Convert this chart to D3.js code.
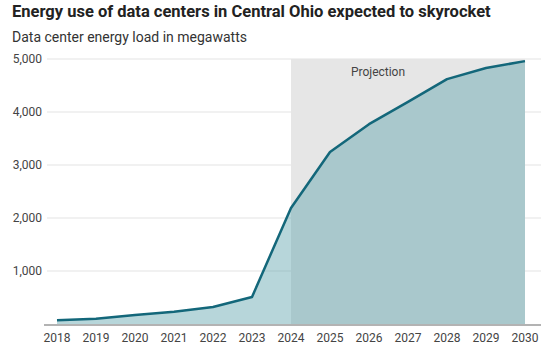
<!DOCTYPE html>
<html>
<head>
<meta charset="utf-8">
<script src="https://cdn.jsdelivr.net/npm/d3@7"></script>
<style>
  body { margin: 0; background: #fff; }
  svg text { font-family: "Roboto", "Liberation Sans", sans-serif; }
</style>
</head>
<body>
<script>
// energy load, megawatts
var years = [2018, 2019, 2020, 2021, 2022, 2023, 2024, 2025, 2026, 2027, 2028, 2029, 2030];
var load = [70, 100, 170, 230, 320, 510, 2190, 3245, 3770, 4190, 4620, 4830, 4960];
var yTicks = [1000, 2000, 3000, 4000, 5000];
var projStart = 2024, projEnd = 2030;

var w = 541, h = 350;
var margin = {top: 59, right: 16, bottom: 26, left: 57};

var svg = d3.select("body").append("svg")
    .attr("width", w)
    .attr("height", h);

var x = d3.scaleLinear()
    .domain([2018, 2030])
    .range([margin.left, w - margin.right]);

var y = d3.scaleLinear()
    .domain([0, 5000])
    .range([h - margin.bottom, margin.top]);

var data = years.map(function(d, i) { return {year: d, value: load[i]}; });

// title + subtitle
svg.append("text")
    .attr("x", 12).attr("y", 17)
    .attr("font-size", 16.5)
    .attr("font-weight", "bold")
    .attr("fill", "#222")
    .text("Energy use of data centers in Central Ohio expected to skyrocket");

svg.append("text")
    .attr("x", 12).attr("y", 42)
    .attr("font-size", 14)
    .attr("fill", "#333")
    .text("Data center energy load in megawatts");

// grid lines
svg.append("g")
  .selectAll("line")
  .data(yTicks)
  .enter().append("line")
    .attr("x1", 47).attr("x2", w)
    .attr("y1", function(d) { return y(d); })
    .attr("y2", function(d) { return y(d); })
    .attr("stroke", "#e3e3e3")
    .attr("stroke-width", 1);

// projection band
svg.append("rect")
    .attr("x", x(projStart))
    .attr("y", y(5000))
    .attr("width", x(projEnd) - x(projStart))
    .attr("height", y(0) - y(5000))
    .attr("fill", "#e6e6e6");

svg.append("text")
    .attr("x", (x(projStart) + x(projEnd)) / 2 - 30)
    .attr("y", 76)
    .attr("text-anchor", "middle")
    .attr("font-size", 12)
    .attr("fill", "#444")
    .text("Projection");

// area + line
var area = d3.area()
    .x(function(d) { return x(d.year); })
    .y0(y(0))
    .y1(function(d) { return y(d.value); });

var line = d3.line()
    .x(function(d) { return x(d.year); })
    .y(function(d) { return y(d.value); });

svg.append("path")
    .datum(data)
    .attr("d", area)
    .attr("fill", "#5fa3ae")
    .attr("fill-opacity", 0.45);

svg.append("path")
    .datum(data)
    .attr("d", line)
    .attr("fill", "none")
    .attr("stroke", "#13677a")
    .attr("stroke-width", 2.5)
    .attr("stroke-linejoin", "round");

// baseline
svg.append("line")
    .attr("x1", 44).attr("x2", w)
    .attr("y1", y(0) + 1).attr("y2", y(0) + 1)
    .attr("stroke", "#b3b3b3")
    .attr("stroke-width", 2);

// y labels
svg.append("g")
  .selectAll("text")
  .data(yTicks)
  .enter().append("text")
    .attr("x", 42)
    .attr("y", function(d) { return y(d) + 4; })
    .attr("text-anchor", "end")
    .attr("font-size", 12)
    .attr("fill", "#444")
    .text(function(d) { return d3.format(",")(d); });

// x labels
svg.append("g")
  .selectAll("text")
  .data(years)
  .enter().append("text")
    .attr("x", function(d) { return x(d); })
    .attr("y", 342)
    .attr("text-anchor", "middle")
    .attr("font-size", 12)
    .attr("fill", "#444")
    .text(function(d) { return d; });
</script>
</body>
</html>
